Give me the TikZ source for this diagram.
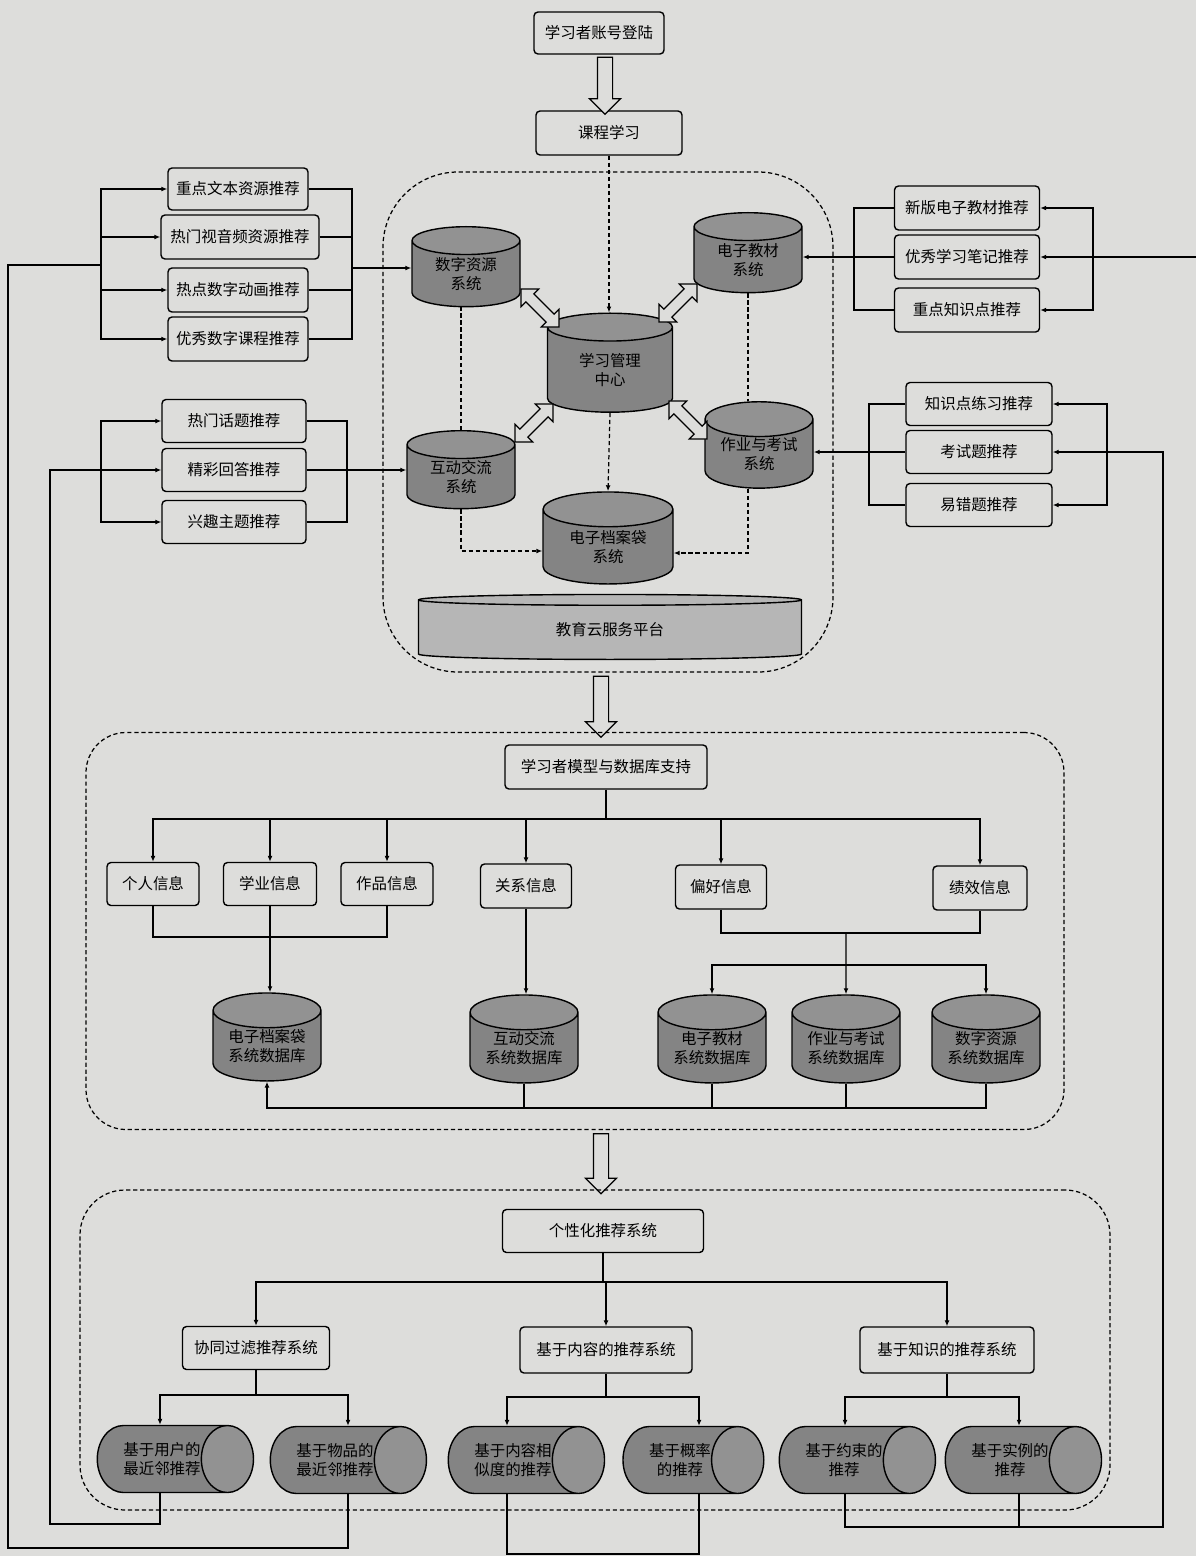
\documentclass[tikz,border=0pt]{standalone}
\usepackage{fontspec}
\usepackage{tikz}
\usetikzlibrary{shapes.geometric,shapes.arrows,arrows.meta}
\newfontfamily\cjk{Noto Sans CJK SC}
\newdimen\pxu
\pxu=0.02cm
\definecolor{paper}{RGB}{221,221,219}
\definecolor{dbbody}{RGB}{132,132,132}
\definecolor{dbtop}{RGB}{146,146,146}
\definecolor{platform}{RGB}{182,182,182}

\begin{document}
\begin{tikzpicture}[
    x=0.02cm, y=-0.02cm,
    >={Latex[length=3.4pt,width=2.8pt]},
    every node/.style={font=\cjk\fontsize{8.8}{11}\selectfont},
    recbox/.style={draw, rounded corners=4\pxu, line width=0.8pt, inner sep=0pt, align=center, minimum height=44\pxu},
    sysdb/.style={cylinder, shape border rotate=90, draw, line width=0.8pt, aspect=0.45,
        cylinder uses custom fill, cylinder body fill=dbbody, cylinder end fill=dbtop,
        inner sep=0pt, align=center, minimum width=108\pxu, minimum height=80\pxu},
    recdb/.style={cylinder, draw, line width=0.8pt, aspect=1.55,
        cylinder uses custom fill, cylinder body fill=dbbody, cylinder end fill=dbtop,
        inner sep=0pt, align=center, minimum width=67\pxu, minimum height=152\pxu},
    region/.style={draw, line width=0.7pt, dash pattern=on 2.4pt off 1.6pt},
    bigarrow/.style={single arrow, draw, line width=0.7pt, fill=paper, inner sep=7\pxu,
        single arrow head extend=8\pxu, shape border rotate=270},
    dblarrow/.style={double arrow, draw, line width=0.7pt, fill=paper, inner sep=5\pxu,
        double arrow head extend=7\pxu, minimum height=54\pxu},
    link/.style={line width=0.7pt},
    dlink/.style={line width=0.7pt, dash pattern=on 2.4pt off 1.6pt},
]
\fill[paper] (0,0) rectangle (1196,1556);
\useasboundingbox (0,0) rectangle (1196,1556);

% login and course
\node[recbox, minimum width=130\pxu, minimum height=42\pxu] (login) at (599,33) {学习者账号登陆};
\node[recbox, minimum width=146\pxu] (course) at (609,133) {课程学习};
\node[bigarrow, minimum height=57\pxu] (ar0) at (605,82) {};

% cloud platform
\node[region, rounded corners=75\pxu, minimum width=450\pxu, minimum height=500\pxu] (reg1) at (608,422) {};
\node[sysdb] (dr) at (466,274) {数字资源\\系统};
\node[sysdb] (jc) at (748,260) {电子教材\\系统};
\node[sysdb, minimum width=125\pxu, minimum height=99\pxu] (lmc) at (610,370) {学习管理\\中心};
\node[sysdb, minimum height=78\pxu] (hd) at (461,477) {互动交流\\系统};
\node[sysdb] (zy) at (759,454) {作业与考试\\系统};
\node[sysdb, minimum width=130\pxu, minimum height=92\pxu] (da) at (608,547) {电子档案袋\\系统};
\node[sysdb, aspect=0.1, cylinder body fill=platform, cylinder end fill=platform,
    minimum width=383\pxu, minimum height=65\pxu] (cloud) at (610,630) {教育云服务平台};

\node[dblarrow, rotate=-45] (x1) at (540,308) {};
\node[dblarrow, rotate=45] (x2) at (678,303) {};
\node[dblarrow, rotate=45] (x3) at (534,423) {};
\node[dblarrow, rotate=-45] (x4) at (688,420) {};

\draw[dlink,->] (course.south) -- (course.south |- lmc.north);
\draw[dlink,->] (lmc.south) -- (da.north);
\draw[dlink] (hd.north) -- (hd.north |- dr.south);
\draw[dlink,->] (hd.south) |- ([yshift=-4\pxu]da.west);
\draw[dlink] (jc.south) -- (jc.south |- zy.north);
\draw[dlink,->] (jc.south |- zy.south) |- ([yshift=-6\pxu]da.east);

% resource recommendations
\node[recbox, minimum width=140\pxu, minimum height=42\pxu] (a1) at (238,189) {重点文本资源推荐};
\node[recbox, minimum width=158\pxu] (a2) at (240,237) {热门视音频资源推荐};
\node[recbox, minimum width=140\pxu] (a3) at (238,290) {热点数字动画推荐};
\node[recbox, minimum width=140\pxu] (a4) at (238,339) {优秀数字课程推荐};
\coordinate (lbA) at (101,265);
\coordinate (rbA) at (352,268);
\foreach \b in {a1,a2,a3,a4} {
    \draw[link,->] (lbA) |- (\b.west);
    \draw[link] (\b.east) -| (rbA);
}
\draw[link,->] (rbA) -- (rbA -| dr.west);

\node[recbox, minimum width=144\pxu, minimum height=43\pxu] (b1) at (234,421) {热门话题推荐};
\node[recbox, minimum width=144\pxu, minimum height=43\pxu] (b2) at (234,470) {精彩回答推荐};
\node[recbox, minimum width=144\pxu, minimum height=43\pxu] (b3) at (234,522) {兴趣主题推荐};
\coordinate (lbB) at (101,470);
\coordinate (rbB) at (347,470);
\draw[link,->] (lbB) |- (b1.west);
\draw[link,->] (lbB) |- (b3.west);
\draw[link] (b1.east) -| (rbB);
\draw[link] (b3.east) -| (rbB);
\draw[link,->] (b2.east) -- (b2.east -| hd.west);

\node[recbox, minimum width=145\pxu] (c1) at (967,208) {新版电子教材推荐};
\node[recbox, minimum width=145\pxu] (c2) at (967,257) {优秀学习笔记推荐};
\node[recbox, minimum width=145\pxu] (c3) at (967,310) {重点知识点推荐};
\coordinate (lbC) at (854,257);
\coordinate (rbC) at (1093,257);
\coordinate (inC) at (1196,257);
\draw[link] (c1.west) -| (lbC);
\draw[link] (c3.west) -| (lbC);
\draw[link,->] (c2.west) -- (c2.west -| jc.east);
\draw[link,->] (rbC) |- (c1.east);
\draw[link,->] (rbC) |- (c3.east);
\draw[link,->] (inC) -- (c2.east);

\node[recbox, minimum width=146\pxu, minimum height=43\pxu] (d1) at (979,404) {知识点练习推荐};
\node[recbox, minimum width=146\pxu, minimum height=43\pxu] (d2) at (979,452) {考试题推荐};
\node[recbox, minimum width=146\pxu, minimum height=43\pxu] (d3) at (979,505) {易错题推荐};
\coordinate (lbD) at (869,452);
\coordinate (rbD) at (1107,452);
\draw[link] (d1.west) -| (lbD);
\draw[link] (d3.west) -| (lbD);
\draw[link,->] (d2.west) -- (d2.west -| zy.east);
\draw[link,->] (rbD) |- (d1.east);
\draw[link,->] (rbD) |- (d3.east);

% learner model
\node[bigarrow, minimum height=61\pxu] (ar1) at (601,703) {};
\node[region, rounded corners=40\pxu, minimum width=978\pxu, minimum height=397\pxu] (reg2) at (575,931) {};
\node[recbox, minimum width=202\pxu] (m0) at (606,767) {学习者模型与数据库支持};
\node[recbox, minimum width=92\pxu, minimum height=43\pxu] (p1) at (153,884) {个人信息};
\node[recbox, minimum width=93\pxu, minimum height=43\pxu] (p2) at (270,884) {学业信息};
\node[recbox, minimum width=92\pxu, minimum height=43\pxu] (p3) at (387,884) {作品信息};
\node[recbox, minimum width=91\pxu] (p4) at (526,886) {关系信息};
\node[recbox, minimum width=91\pxu] (p5) at (721,887) {偏好信息};
\node[recbox, minimum width=94\pxu] (p6) at (980,888) {绩效信息};
\coordinate (busM) at (606,819);
\draw[link] (m0.south) -- (busM);
\foreach \b in {p1,p2,p3,p4,p5,p6}
    \draw[link,->] (busM) -| (\b.north);

\node[sysdb, minimum height=88\pxu] (db1) at (267,1046) {电子档案袋\\系统数据库};
\node[sysdb, minimum height=88\pxu] (db2) at (524,1048) {互动交流\\系统数据库};
\node[sysdb, minimum height=88\pxu] (db3) at (712,1048) {电子教材\\系统数据库};
\node[sysdb, minimum height=88\pxu] (db4) at (846,1048) {作业与考试\\系统数据库};
\node[sysdb, minimum height=88\pxu] (db5) at (986,1048) {数字资源\\系统数据库};

\coordinate (jn1) at (270,937);
\draw[link] (p1.south) |- (jn1) -| (p3.south);
\draw[link,->] (p2.south) -- (p2.south |- db1.north);
\draw[link,->] (p4.south) -- (p4.south |- db2.north);
\coordinate (jn2) at (846,933);
\coordinate (busD) at (846,965);
\draw[link] (p5.south) |- (jn2) -| (p6.south);
\draw[link,->] (jn2) -- (db4.north);
\draw[link,->] (busD) -| (db3.north);
\draw[link,->] (busD) -| (db5.north);

\coordinate (busB) at (986,1108);
\draw[link,->] (db5.south) -- (busB) -| (db1.south);
\foreach \b in {db2,db3,db4}
    \draw[link] (\b.south) -- (\b.south |- busB);

% recommender
\node[bigarrow, minimum height=60\pxu] (ar2) at (601,1160) {};
\node[region, rounded corners=45\pxu, minimum width=1030\pxu, minimum height=320\pxu] (reg3) at (595,1350) {};
\node[recbox, minimum width=201\pxu, minimum height=43\pxu] (r0) at (603,1231) {个性化推荐系统};
\node[recbox, minimum width=147\pxu, minimum height=43\pxu] (s1) at (256,1348) {协同过滤推荐系统};
\node[recbox, minimum width=172\pxu, minimum height=46\pxu] (s2) at (606,1350) {基于内容的推荐系统};
\node[recbox, minimum width=174\pxu, minimum height=46\pxu] (s3) at (947,1350) {基于知识的推荐系统};
\coordinate (busR) at (606,1282);
\draw[link] (r0.south) -- (r0.south |- busR);
\draw[link,->] (busR) -| (s1.north);
\draw[link,->] (busR) -| (s3.north);
\draw[link,->] (busR) -- (s2.north);

\node[recdb] (h1) at (162,1459) {基于用户的\\最近邻推荐};
\node[recdb] (h2) at (335,1460) {基于物品的\\最近邻推荐};
\node[recdb] (h3) at (513,1460) {基于内容相\\似度的推荐};
\node[recdb, minimum height=140\pxu] (h4) at (680,1460) {基于概率\\的推荐};
\node[recdb] (h5) at (844,1460) {基于约束的\\推荐};
\node[recdb] (h6) at (1010,1460) {基于实例的\\推荐};

\coordinate (c1x) at (160,0);
\coordinate (c2x) at (348,0);
\coordinate (c3x) at (507,0);
\coordinate (c4x) at (699,0);
\coordinate (c5x) at (845,0);
\coordinate (c6x) at (1019,0);

\coordinate (bs1) at (256,1395);
\coordinate (bs2) at (606,1397);
\coordinate (bs3) at (947,1397);
\draw[link] (s1.south) -- (bs1);
\draw[link] (s2.south) -- (bs2);
\draw[link] (s3.south) -- (bs3);
\draw[link,->] (bs1) -| (c1x |- h1.north);
\draw[link,->] (bs1) -| (c2x |- h2.north);
\draw[link,->] (bs2) -| (c3x |- h3.north);
\draw[link,->] (bs2) -| (c4x |- h4.north);
\draw[link,->] (bs3) -| (c5x |- h5.north);
\draw[link,->] (bs3) -| (c6x |- h6.north);

% feedback loops
\coordinate (loopL1) at (50,1524);
\coordinate (loopL2) at (8,1548);
\coordinate (loopM) at (507,1554);
\coordinate (loopR) at (1163,1527);
\draw[link,->] (c1x |- h1.south) |- (loopL1) |- (b2.west);
\draw[link] (c2x |- h2.south) |- (loopL2) |- (lbA);
\draw[link] (c3x |- h3.south) -- (loopM) -| (c4x |- h4.south);
\draw[link,->] (c5x |- h5.south) |- (loopR) |- (d2.east);
\draw[link] (c6x |- h6.south) -- (c6x |- loopR);
\end{tikzpicture}
\end{document}
